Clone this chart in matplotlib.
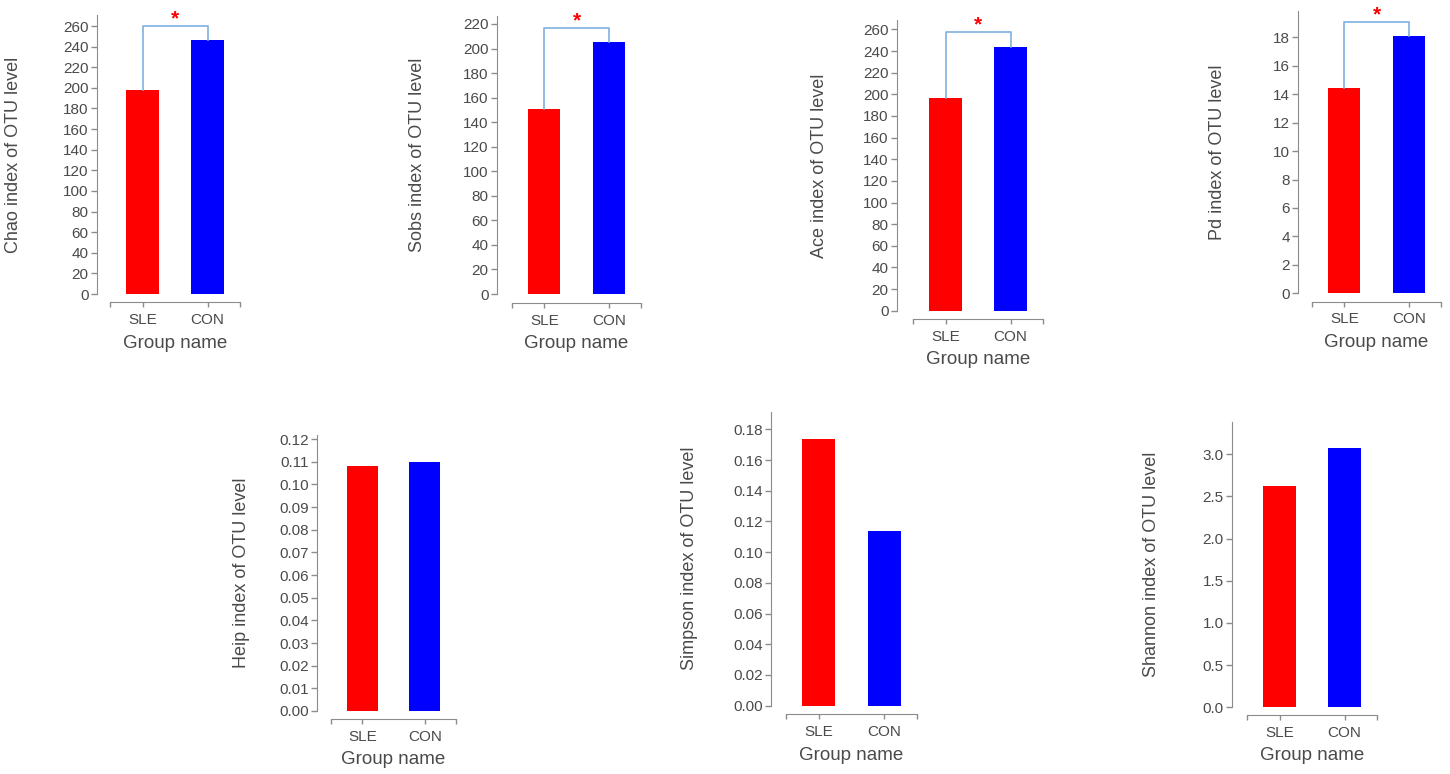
import matplotlib
matplotlib.use('Agg')
import matplotlib.pyplot as plt
import numpy as np

plt.rcParams['font.family'] = ['Liberation Sans', 'DejaVu Sans']

# Dados
groups = ['SLE', 'CON']
bar_colors = ['#ff0000', '#0000ff']

chao = [198, 246]
sobs = [151, 205]
ace = [197, 244]
pd_idx = [14.4, 18.1]
heip = [0.108, 0.110]
simpson = [0.174, 0.114]
shannon = [2.63, 3.08]

ylabels = ['Chao index of OTU level', 'Sobs index of OTU level', 'Ace index of OTU level',
           'Pd index of OTU level', 'Heip index of OTU level', 'Simpson index of OTU level',
           'Shannon index of OTU level']

# nível do colchete de significância (None = sem colchete)
sig_levels = [260, 217, 258, 19.1, None, None, None]

yticks = [np.arange(0, 261, 20), np.arange(0, 221, 20), np.arange(0, 261, 20),
          np.arange(0, 19, 2), np.arange(0, 0.1201, 0.01), np.arange(0, 0.1801, 0.02),
          np.arange(0, 3.01, 0.5)]
tick_fmt = ['{:.0f}', '{:.0f}', '{:.0f}', '{:.0f}', '{:.2f}', '{:.2f}', '{:.1f}']

values = [chao, sobs, ace, pd_idx, heip, simpson, shannon]

# layout em pixels: eixo y x, início/fim eixo x, y do zero, topo do eixo y, y do eixo x, valor máximo, x do ylabel
layout = [
    dict(yx=97, xs=110, xe=240, y0=294, yt=15, xy=302, ymax=270.7, ylx=14),
    dict(yx=497, xs=512, xe=641, y0=294, yt=16, xy=303, ymax=226.5, ylx=418),
    dict(yx=897, xs=913, xe=1043, y0=310.7, yt=20, xy=319, ymax=268.7, ylx=819),
    dict(yx=1298, xs=1312, xe=1441, y0=293.3, yt=10.7, xy=301.7, ymax=19.87, ylx=1217),
    dict(yx=317, xs=331, xe=456, y0=711, yt=435, xy=719, ymax=0.1218, ylx=242),
    dict(yx=771, xs=786, xe=917, y0=705.7, yt=411.7, xy=714, ymax=0.1915, ylx=690),
    dict(yx=1232, xs=1247, xe=1377, y0=707.3, yt=422, xy=715, ymax=3.383, ylx=1152),
]

W, H = 1450, 774
axis_color = '#8c8c8c'
text_color = '#4a4a4a'

fig = plt.figure(figsize=(W / 100, H / 100), dpi=100)

for i, lay in enumerate(layout):
    w = lay['xe'] - lay['xs']
    h = lay['y0'] - lay['yt']
    ax = fig.add_axes([lay['xs'] / W, 1 - lay['y0'] / H, w / W, h / H])
    x = np.arange(len(groups))
    ax.bar(x, values[i], width=0.5, color=bar_colors)
    ax.set_xlim(-0.5, 1.5)
    ax.set_ylim(0, lay['ymax'])

    for s in ['top', 'right']:
        ax.spines[s].set_visible(False)
    ax.spines['left'].set_position(('outward', (lay['xs'] - lay['yx']) * 0.72))
    ax.spines['bottom'].set_position(('outward', (lay['xy'] - lay['y0']) * 0.72))
    ax.spines['left'].set_color(axis_color)
    ax.spines['bottom'].set_color(axis_color)

    ax.set_yticks(yticks[i])
    ax.set_yticklabels([tick_fmt[i].format(t) for t in yticks[i]])
    ax.set_xticks(x)
    ax.set_xticklabels(groups)
    ax.set_xticks([-0.5, 1.5], minor=True)
    ax.tick_params(axis='y', length=4.5, width=1, color=axis_color, labelcolor=text_color,
                   labelsize=11, pad=1.5)
    ax.tick_params(axis='x', which='both', length=3.6, width=1, color=axis_color,
                   labelcolor=text_color, labelsize=11, pad=4)

    ax.set_xlabel('Group name', fontsize=13.5, color=text_color, va='center')
    ax.xaxis.set_label_coords(0.5, -(lay['xy'] + 41 - lay['y0']) / h)
    ax.set_ylabel(ylabels[i], fontsize=13, color=text_color, va='center')
    ax.yaxis.set_label_coords((lay['ylx'] - lay['xs']) / w, 0.5)

    lvl = sig_levels[i]
    if lvl is not None:
        v = values[i]
        ax.plot([0, 0, 1, 1], [v[0], lvl, lvl, v[1]], color='#7fb0de', lw=1.2, clip_on=False)
        ax.annotate('*', xy=(0.5, lvl), xytext=(0, -2), textcoords='offset points',
                    ha='center', va='bottom', color='#ff0000', fontsize=15,
                    fontweight='bold', annotation_clip=False)

plt.savefig('out.png', dpi=100)
plt.close(fig)
